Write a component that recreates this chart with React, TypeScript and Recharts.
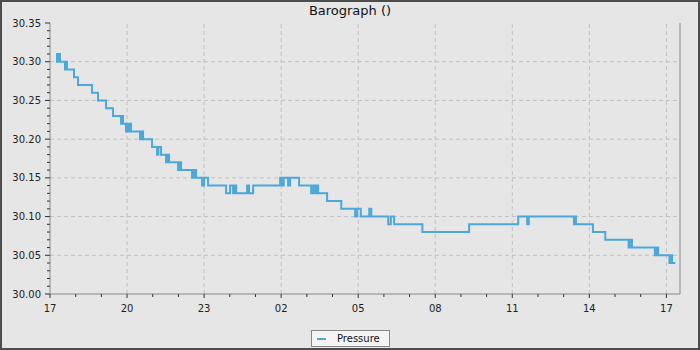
import React from 'react';
import { LineChart, Line, XAxis, YAxis, ReferenceLine } from 'recharts';

// hours since 17:00, pressure in inHg (step readings)
const readingHours = [
  0.234, 0.273, 0.31, 0.39, 0.584, 0.623, 0.66, 0.935, 1.091, 1.636, 1.87, 2.182, 2.454,
  2.766, 2.8, 2.844, 2.961, 3.0, 3.039, 3.08, 3.156, 3.506, 3.55, 3.623, 3.974, 4.169,
  4.22, 4.325, 4.519, 4.58, 4.636, 4.987, 5.05, 5.104, 5.532, 5.61, 5.688, 5.92, 6.0,
  6.156, 6.857, 7.013, 7.13, 7.2, 7.25, 7.675, 7.75, 7.909, 8.96, 9.04, 9.1, 9.27, 9.35,
  9.7, 10.17, 10.25, 10.33, 10.4, 10.44, 10.79, 11.34, 11.88, 11.96, 12.1, 12.43, 12.51,
  13.17, 13.27, 13.4, 14.5, 16.32, 18.23, 18.58, 18.64, 20.4, 20.44, 20.48, 21.14, 21.62,
  22.53, 22.58, 22.66, 23.55, 23.62, 23.68, 24.12, 24.18, 24.22, 24.35,
];
const readingValues = [
  30.31, 30.3, 30.31, 30.3, 30.29, 30.3, 30.29, 30.28, 30.27, 30.26, 30.25, 30.24, 30.23,
  30.22, 30.23, 30.22, 30.21, 30.22, 30.21, 30.22, 30.21, 30.2, 30.21, 30.2, 30.19, 30.18,
  30.19, 30.18, 30.17, 30.18, 30.17, 30.16, 30.17, 30.16, 30.15, 30.16, 30.15, 30.14, 30.15,
  30.14, 30.13, 30.14, 30.13, 30.14, 30.13, 30.14, 30.13, 30.14, 30.15, 30.14, 30.15, 30.14, 30.15,
  30.14, 30.13, 30.14, 30.13, 30.14, 30.13, 30.12, 30.11, 30.1, 30.11, 30.1, 30.11, 30.1,
  30.09, 30.1, 30.09, 30.08, 30.09, 30.1, 30.09, 30.1, 30.09, 30.1, 30.09, 30.08, 30.07,
  30.06, 30.07, 30.06, 30.05, 30.06, 30.05, 30.04, 30.05, 30.04, 30.04,
];

const hourTicks = [0, 1, 2, 3, 4, 5, 6, 7, 8, 9, 10, 11, 12, 13, 14, 15, 16, 17, 18, 19, 20, 21, 22, 23, 24];
const majorHours = [3, 6, 9, 12, 15, 18, 21, 24];
const pressureTicks = [
  30.0, 30.01, 30.02, 30.03, 30.04, 30.05, 30.06, 30.07, 30.08, 30.09, 30.1, 30.11, 30.12,
  30.13, 30.14, 30.15, 30.16, 30.17, 30.18, 30.19, 30.2, 30.21, 30.22, 30.23, 30.24, 30.25,
  30.26, 30.27, 30.28, 30.29, 30.3, 30.31, 30.32, 30.33, 30.34, 30.35,
];
const majorPressures = [30.05, 30.1, 30.15, 30.2, 30.25, 30.3];

const chartData = readingHours.map((h, i) => ({ hour: h, pressure: readingValues[i] }));

const FONT = '"DejaVu Sans", sans-serif';
const AXIS = '#888888';
const LINE = '#4ba8d8';

const isMajorPressure = (v: number) => Math.round(v * 100) % 5 === 0;

const YTick = (props: any) => {
  const { x, y, payload } = props;
  const major = isMajorPressure(payload.value);
  return (
    <g>
      <line x1={x - (major ? 5 : 3)} x2={x} y1={y} y2={y} stroke="#333" />
      {major && (
        <text x={x - 9} y={y + 3.5} textAnchor="end" fontSize={10} fontFamily={FONT} fill="#222">
          {payload.value.toFixed(2)}
        </text>
      )}
    </g>
  );
};

const XTick = (props: any) => {
  const { x, y, payload } = props;
  const major = payload.value % 3 === 0;
  const label = String((17 + payload.value) % 24).padStart(2, '0');
  return (
    <g>
      <line x1={x} x2={x} y1={y} y2={y + (major ? 4 : 3)} stroke="#333" />
      {major && (
        <text x={x} y={y + 18} textAnchor="middle" fontSize={10} fontFamily={FONT} fill="#222">
          {label}
        </text>
      )}
    </g>
  );
};

const App: React.FC = () => {
  return (
    <div style={{ position: 'relative', width: 700, height: 350, background: '#e6e6e6', boxShadow: 'inset 0 0 0 2px #4d4d4d' }}>
      <style>{`body{margin:0}`}</style>
      <div
        style={{
          position: 'absolute', top: 3, left: 0, width: 700, textAlign: 'center',
          fontFamily: FONT, fontSize: 13, color: '#111',
        }}
      >
        Barograph ()
      </div>
      <LineChart width={700} height={350} data={chartData} margin={{ top: 23, right: 20, bottom: 31, left: 0 }}>
        {majorPressures.map(v => (
          <ReferenceLine key={'h' + v} y={v} stroke="#c0c0c0" strokeDasharray="4 3" />
        ))}
        {majorHours.map(h => (
          <ReferenceLine key={'v' + h} x={h} stroke="#c0c0c0" strokeDasharray="4 3" />
        ))}
        <ReferenceLine x={24.53} stroke={AXIS} ifOverflow="visible" />
        <XAxis
          dataKey="hour"
          type="number"
          domain={[0, 24.53]}
          allowDataOverflow
          ticks={hourTicks}
          interval={0}
          height={25}
          stroke={AXIS}
          tickLine={false}
          tickSize={0}
          tickMargin={0}
          tick={<XTick />}
        />
        <YAxis
          type="number"
          domain={[30.0, 30.35]}
          allowDataOverflow
          ticks={pressureTicks}
          interval={0}
          width={50}
          stroke={AXIS}
          tickLine={false}
          tickSize={0}
          tickMargin={0}
          tick={<YTick />}
        />
        <Line
          type="stepAfter"
          dataKey="pressure"
          stroke={LINE}
          strokeWidth={2}
          dot={false}
          isAnimationActive={false}
        />
      </LineChart>
      <div
        style={{
          position: 'absolute', left: 311, top: 330, width: 77, height: 15, background: '#f4f4f4',
          border: '1px solid #888', display: 'flex', alignItems: 'center', fontFamily: FONT, fontSize: 10, color: '#111',
        }}
      >
        <span style={{ display: 'inline-block', width: 9, height: 2, background: LINE, marginLeft: 5, marginRight: 11 }} />
        Pressure
      </div>
    </div>
  );
};

export default App;
